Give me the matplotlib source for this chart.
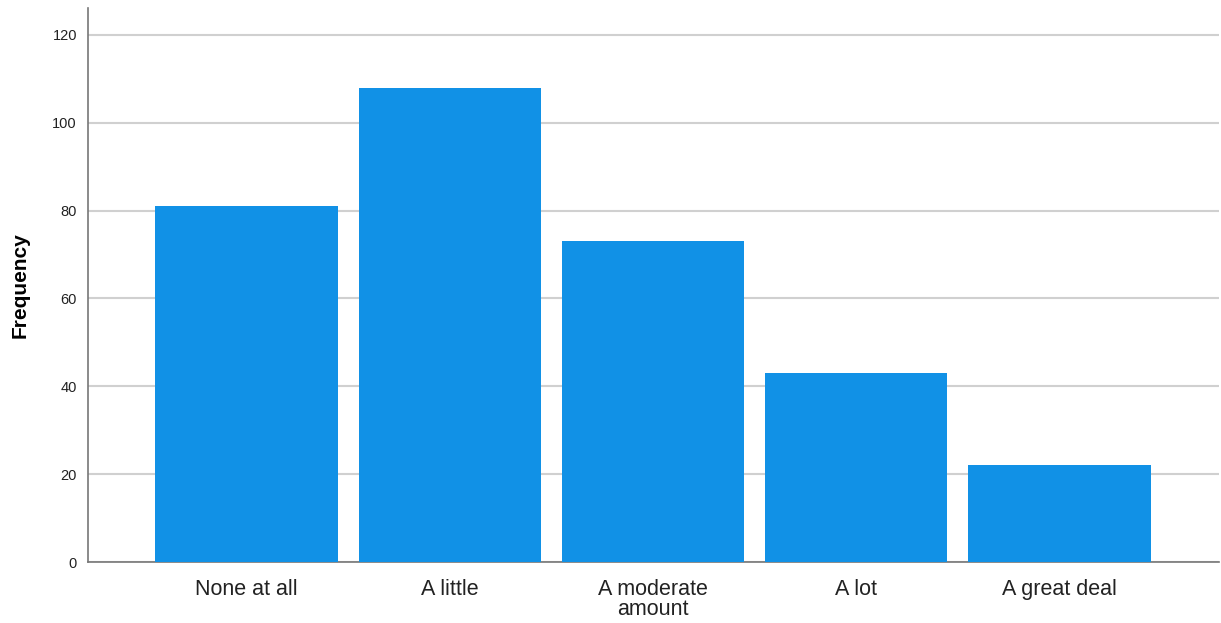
import matplotlib
matplotlib.use("Agg")
import matplotlib.pyplot as plt

categories = ["None at all", "A little", "A moderate\namount", "A lot", "A great deal"]
frequencies = [81, 108, 73, 43, 22]
yticks = [0, 20, 40, 60, 80, 100, 120]

plt.rcParams['font.family'] = ['Liberation Sans', 'DejaVu Sans']

fig = plt.figure(figsize=(12.21, 6.23), dpi=100)
ax = fig.add_axes([88/1221, 1-562/623, (1219-88)/1221, (562-8)/623])

x = list(range(len(categories)))
ax.bar(x, frequencies, width=0.896, color="#1191e6", zorder=3)

ax.set_xlim(-0.78, len(categories) - 1 + 0.785)
ax.set_ylim(0, 126.1)
ax.set_yticks(yticks)
ax.set_yticklabels([str(v) for v in yticks], fontsize=10.5, color="#222222")
ax.set_xticks(x)
ax.set_xticklabels(categories, fontsize=15.5, color="#222222", linespacing=0.98)
ax.tick_params(axis='both', length=0)
ax.tick_params(axis='y', pad=8)
ax.tick_params(axis='x', pad=12)

ax.yaxis.grid(True, color="#d0d0d0", linewidth=1.5, zorder=0)
ax.set_axisbelow(True)
for s in ["top", "right"]:
    ax.spines[s].set_visible(False)
for s in ["left", "bottom"]:
    ax.spines[s].set_color("#777777")
    ax.spines[s].set_linewidth(1.2)

ax.set_ylabel("Frequency", fontsize=15, fontweight="bold", labelpad=16)

fig.savefig("out.png", dpi=100)
